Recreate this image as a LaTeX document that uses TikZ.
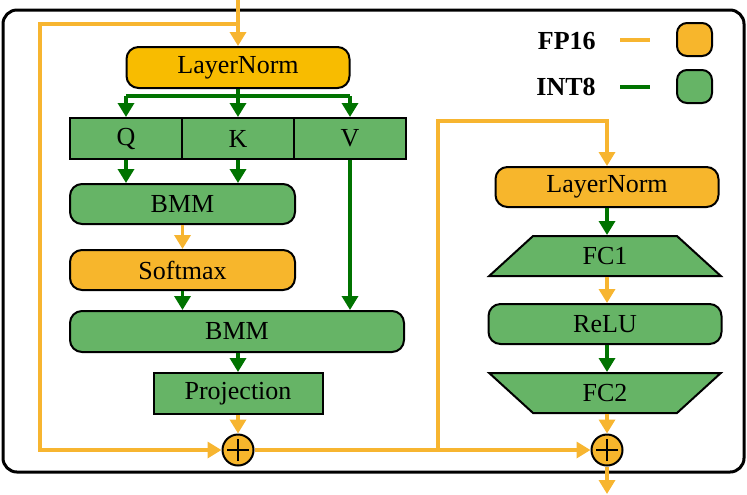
\documentclass[tikz,border=0pt]{standalone}
\usepackage{fontspec}
\setmainfont{Liberation Serif}
\usetikzlibrary{arrows.meta,shapes.geometric}

\definecolor{fpline}{RGB}{247,181,48}
\definecolor{fpfill}{RGB}{247,182,44}
\definecolor{lnfill}{RGB}{248,188,0}
\definecolor{intline}{RGB}{0,115,0}
\definecolor{intfill}{RGB}{102,180,102}

\begin{document}
\begin{tikzpicture}[x=0.5pt,y=-0.5pt,>={Triangle[length=7pt,width=8pt]},
  line width=1.7pt,font=\fontsize{13}{15}\selectfont,
  box/.style={draw=black,line width=1pt,inner sep=0pt,minimum height=20.5pt},
  fp node/.style={box,rounded corners=6pt,fill=fpfill},
  int node/.style={box,rounded corners=6pt,fill=intfill},
  int rect/.style={box,fill=intfill},
  fc node/.style={box,trapezium,trapezium stretches=true,trapezium left angle=52,
    trapezium right angle=52,fill=intfill,minimum width=116pt,minimum height=20pt},
  add node/.style={circle,draw=black,line width=1pt,fill=fpfill,minimum size=15.5pt,inner sep=0pt,
    path picture={\draw[line width=1.2pt,shift={(path picture bounding box.center)}]
      (-5.5pt,0) -- (5.5pt,0) (0,-5.5pt) -- (0,5.5pt);}},
  fp line/.style={draw=fpline,->},
  int line/.style={draw=intline,->}]

  \useasboundingbox (0,0) rectangle (747,494);
  \draw[line width=1.5pt,rounded corners=7pt] (3,10) rectangle (744,472);

  % attention block
  \node[fp node,fill=lnfill,minimum width=111.5pt] (ln1) at (238,67.5) {LayerNorm};
  \node[int rect,minimum width=56pt] (q) at (126,138.5) {Q};
  \node[int rect,minimum width=56pt] (k) at (238,138.5) {K};
  \node[int rect,minimum width=56pt] (v) at (350,138.5) {V};
  \node[int node,minimum width=112.5pt,minimum height=20pt] (bmm1) at (182.5,204) {BMM};
  \node[fp node,minimum width=112.5pt,minimum height=20pt] (soft) at (182.5,270) {Softmax};
  \node[int node,minimum width=167pt] (bmm2) at (237,331.5) {BMM};
  \node[int rect,minimum width=84.5pt] (proj) at (238,393.5) {Projection};
  \node[add node] (add1) at (238,450) {};

  % mlp block
  \node[fp node,minimum width=111.5pt,minimum height=20pt] (ln2) at (607,187) {LayerNorm};
  \node[fc node] (fc1) at (605,256) {FC1};
  \node[int node,minimum width=116.5pt,minimum height=20pt] (relu) at (605,324) {ReLU};
  \node[fc node,shape border rotate=180] (fc2) at (605,393) {FC2};
  \node[add node] (add2) at (607,450) {};

  % legend
  \node[anchor=east,font=\fontsize{13}{15}\selectfont\bfseries] (fplabel) at (604,41) {FP16};
  \node[anchor=east,font=\fontsize{13}{15}\selectfont\bfseries] (intlabel) at (604,87) {INT8};
  \node[fp node,minimum width=17.5pt,minimum height=16.5pt,rounded corners=5pt] (fpkey) at (694.5,39.5) {};
  \node[int node,minimum width=17.5pt,minimum height=16.5pt,rounded corners=5pt] (intkey) at (694.5,86.5) {};
  \draw[draw=fpline,line width=2pt] (620,40) -- (650,40);
  \draw[draw=intline,line width=2pt] (620,87) -- (650,87);

  \coordinate (in) at (238,0);
  \coordinate (split1) at (238,24);
  \coordinate (skip1) at (40,24);
  \coordinate (fork) at (238,96);
  \coordinate (split2) at (438,450);
  \coordinate (skip2) at (438,121);
  \coordinate (out) at (607,494);

  \draw[fp line] (in) -- (ln1);
  \draw[fp line] (split1) -- (skip1) |- (add1);
  \draw[draw=intline] (ln1) -- (fork);
  \draw[draw=intline] (q |- fork) -- (v |- fork);
  \draw[int line] (q |- fork) -- (q);
  \draw[int line] (fork) -- (k);
  \draw[int line] (v |- fork) -- (v);
  \draw[int line] (q) -- (q |- bmm1.north);
  \draw[int line] (k) -- (k |- bmm1.north);
  \draw[fp line] (bmm1) -- (soft);
  \draw[int line] (soft) -- (soft |- bmm2.north);
  \draw[int line] (v) -- (v |- bmm2.north);
  \draw[int line] (proj |- bmm2.south) -- (proj);
  \draw[fp line] (proj) -- (add1);
  \draw[fp line] (add1) -- (add2);
  \draw[fp line] (split2) -- (skip2) -| (ln2);
  \draw[int line] (ln2 |- ln2.south) -- (ln2 |- fc1.north);
  \draw[fp line] (ln2 |- fc1.south) -- (ln2 |- relu.north);
  \draw[int line] (ln2 |- relu.south) -- (ln2 |- fc2.north);
  \draw[fp line] (ln2 |- fc2.south) -- (add2);
  \draw[fp line] (add2) -- (out);
\end{tikzpicture}
\end{document}
